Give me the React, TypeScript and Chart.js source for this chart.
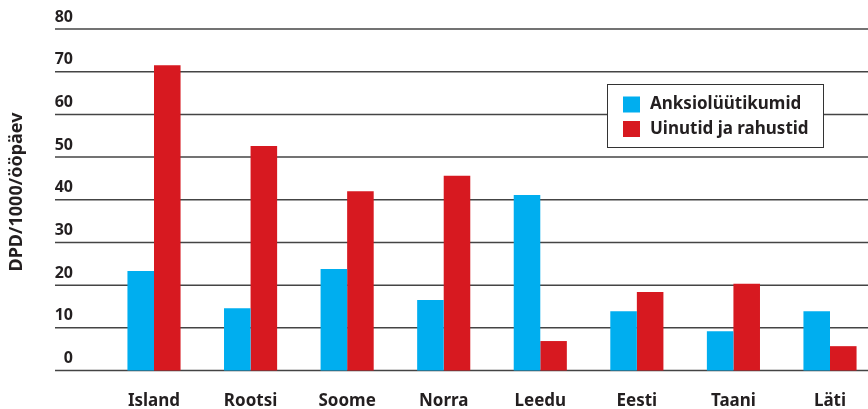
import React, { useEffect, useRef } from "react";
import { Chart, registerables } from "chart.js";

Chart.register(...registerables);

const categories = ["Island", "Rootsi", "Soome", "Norra", "Leedu", "Eesti", "Taani", "Läti"];
const anksiolyytikumid = [23.3, 14.6, 23.8, 16.5, 41.1, 13.9, 9.2, 13.9];
const uinutid = [71.5, 52.6, 42.0, 45.6, 6.9, 18.4, 20.3, 5.7];
const seriesLabels = ["Anksiolüütikumid", "Uinutid ja rahustid"];
const yTicks = [0, 10, 20, 30, 40, 50, 60, 70, 80];
const yTitle = "DPD/1000/ööpäev";

const BLUE = "#00AEEF";
const RED = "#D71920";
const TEXT = "#231F20";
const FONT = "'Noto Sans', 'Open Sans', sans-serif";

const customPlugin = {
  id: "customDecor",
  beforeDatasetsDraw(chart: any) {
    const ctx = chart.ctx;
    const y = chart.scales.y;
    ctx.save();
    ctx.strokeStyle = "#444444";
    ctx.lineWidth = 1.5;
    yTicks.forEach((v) => {
      const py = y.getPixelForValue(v);
      ctx.beginPath();
      ctx.moveTo(55, py);
      ctx.lineTo(chart.width, py);
      ctx.stroke();
    });
    ctx.fillStyle = TEXT;
    ctx.font = `bold 16px ${FONT}`;
    ctx.textAlign = "right";
    ctx.textBaseline = "middle";
    yTicks.forEach((v) => {
      const py = y.getPixelForValue(v);
      ctx.fillText(String(v), 73, py - 12);
    });
    // y title
    ctx.translate(17, 192);
    ctx.rotate(-Math.PI / 2);
    ctx.textAlign = "center";
    ctx.font = `bold 18px ${FONT}`;
    ctx.fillText(yTitle, 0, 0);
    ctx.restore();
  },
  afterDraw(chart: any) {
    const ctx = chart.ctx;
    ctx.save();
    const bx = 607.5, by = 84.5, bw = 216, bh = 63;
    ctx.fillStyle = "#ffffff";
    ctx.fillRect(bx, by, bw, bh);
    ctx.strokeStyle = "#333333";
    ctx.lineWidth = 1;
    ctx.strokeRect(bx, by, bw, bh);
    const colors = [BLUE, RED];
    ctx.font = `bold 17px ${FONT}`;
    ctx.textAlign = "left";
    ctx.textBaseline = "middle";
    seriesLabels.forEach((lab, i) => {
      const cy = 104.5 + i * 24.5;
      ctx.fillStyle = colors[i];
      ctx.fillRect(623, cy - 8, 17, 16);
      ctx.fillStyle = TEXT;
      ctx.fillText(lab, 650, cy);
    });
    ctx.restore();
  },
};

export default function App() {
  const ref = useRef<HTMLCanvasElement>(null);
  useEffect(() => {
    document.body.style.margin = "0";
    const chart = new Chart(ref.current!, {
      type: "bar",
      data: {
        labels: categories,
        datasets: [
          { label: seriesLabels[0], data: anksiolyytikumid, backgroundColor: BLUE, clip: false } as any,
          { label: seriesLabels[1], data: uinutid, backgroundColor: RED, clip: false } as any,
        ],
      },
      options: {
        animation: false,
        responsive: false,
        maintainAspectRatio: false,
        layout: { padding: { left: 154, right: 38, top: 29, bottom: 0 } },
        plugins: { legend: { display: false }, tooltip: { enabled: false } },
        datasets: { bar: { categoryPercentage: 0.55, barPercentage: 1 } },
        scales: {
          x: {
            offset: false,
            grid: { display: false, drawTicks: false },
            border: { display: false },
            ticks: { color: TEXT, padding: 20, maxRotation: 0, font: { family: FONT, size: 17, weight: "bold" } },
            afterFit: (s: any) => {
              s.height = 38.5;
            },
          },
          y: {
            display: false,
            min: 0,
            max: 80,
          },
        },
      },
      plugins: [customPlugin],
    });
    return () => chart.destroy();
  }, []);
  return (
    <div style={{ width: 868, height: 409 }}>
      <canvas ref={ref} width={868} height={409} style={{ display: "block" }} />
    </div>
  );
}
